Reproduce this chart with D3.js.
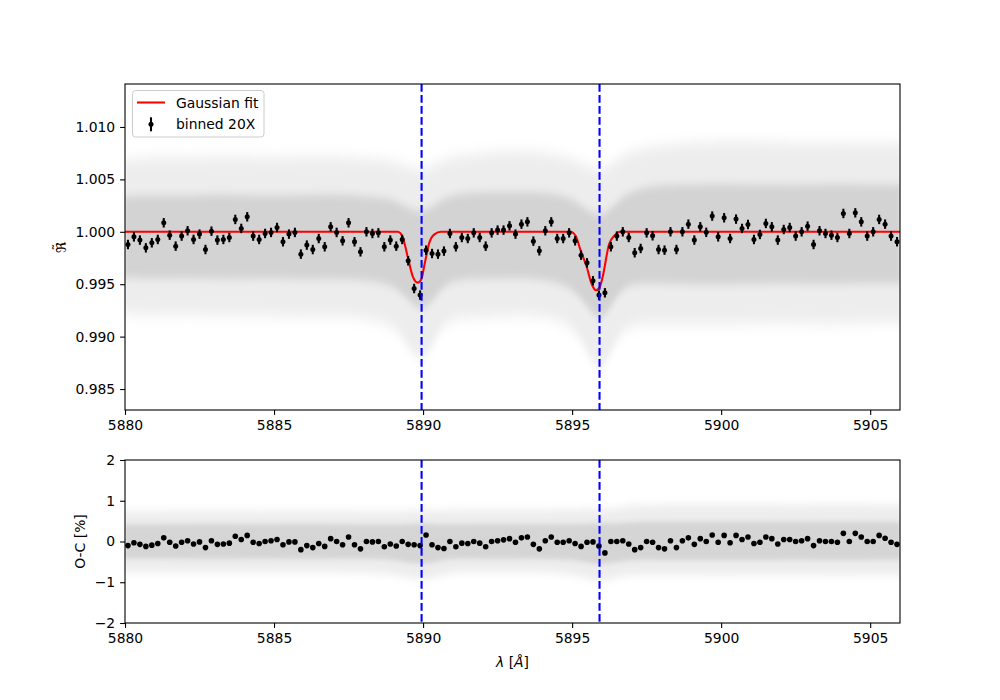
<!DOCTYPE html>
<html>
<head>
<meta charset="utf-8">
<script src="https://cdn.jsdelivr.net/npm/d3@7"></script>
<style>
  body { margin: 0; background: #fff; }
  text { font-family: "DejaVu Sans", sans-serif; }
</style>
</head>
<body>
<div id="chart"></div>
<script>
// bin centres of the 20X binned spectrum (Angstrom)
var binWave = [
  5880.1, 5880.3, 5880.5, 5880.7, 5880.9, 5881.1, 5881.3, 5881.5, 5881.7, 5881.9,
  5882.1, 5882.3, 5882.5, 5882.7, 5882.9, 5883.1, 5883.3, 5883.5, 5883.7, 5883.9,
  5884.1, 5884.3, 5884.5, 5884.7, 5884.9, 5885.1, 5885.3, 5885.5, 5885.7, 5885.9,
  5886.1, 5886.3, 5886.5, 5886.7, 5886.9, 5887.1, 5887.3, 5887.5, 5887.7, 5887.9,
  5888.1, 5888.3, 5888.5, 5888.7, 5888.9, 5889.1, 5889.3, 5889.5, 5889.7, 5889.9,
  5890.1, 5890.3, 5890.5, 5890.7, 5890.9, 5891.1, 5891.3, 5891.5, 5891.7, 5891.9,
  5892.1, 5892.3, 5892.5, 5892.7, 5892.9, 5893.1, 5893.3, 5893.5, 5893.7, 5893.9,
  5894.1, 5894.3, 5894.5, 5894.7, 5894.9, 5895.1, 5895.3, 5895.5, 5895.7, 5895.9,
  5896.1, 5896.3, 5896.5, 5896.7, 5896.9, 5897.1, 5897.3, 5897.5, 5897.7, 5897.9,
  5898.1, 5898.3, 5898.5, 5898.7, 5898.9, 5899.1, 5899.3, 5899.5, 5899.7, 5899.9,
  5900.1, 5900.3, 5900.5, 5900.7, 5900.9, 5901.1, 5901.3, 5901.5, 5901.7, 5901.9,
  5902.1, 5902.3, 5902.5, 5902.7, 5902.9, 5903.1, 5903.3, 5903.5, 5903.7, 5903.9,
  5904.1, 5904.3, 5904.5, 5904.7, 5904.9, 5905.1, 5905.3, 5905.5, 5905.7, 5905.9
];

var binFlux = [
  0.99879, 0.99952, 0.99921, 0.99847, 0.99895, 0.99927, 1.00086, 0.99968, 0.99863, 0.99959,
  1.00010, 0.99927, 0.99978, 0.99831, 1.00006, 0.99921, 0.99927, 0.99946, 1.00118, 1.00032,
  1.00143, 0.99959, 0.99927, 0.99984, 0.99994, 1.00041, 0.99905, 0.99978, 0.99994, 0.99787,
  0.99873, 0.99831, 0.99936, 0.99857, 1.00048, 0.99994, 0.99914, 1.00086, 0.99905, 0.99809,
  1.00000, 0.99984, 0.99990, 0.99857, 0.99921, 0.99863, 0.99927, 0.99723, 0.99459, 0.99396,
  0.99825, 0.99793, 0.99787, 0.99816, 0.99984, 0.99857, 0.99946, 0.99936, 0.99990, 0.99946,
  0.99863, 0.99990, 1.00016, 1.00016, 1.00057, 0.99978, 1.00073, 1.00095, 0.99911, 0.99819,
  1.00010, 1.00095, 0.99936, 0.99936, 0.99990, 0.99914, 0.99777, 0.99704, 0.99533, 0.99396,
  0.99418, 0.99857, 0.99959, 1.00000, 0.99946, 0.99800, 0.99841, 0.99990, 0.99962, 0.99831,
  0.99825, 1.00000, 0.99831, 1.00000, 1.00073, 0.99921, 1.00048, 0.99995, 1.00150, 0.99952,
  1.00134, 0.99936, 1.00121, 1.00032, 1.00070, 0.99927, 0.99975, 1.00080, 1.00048, 0.99921,
  1.00022, 1.00041, 0.99959, 1.00000, 1.00054, 0.99879, 1.00010, 0.99984, 0.99968, 0.99946,
  1.00175, 0.99984, 1.00181, 1.00095, 0.99959, 1.00000, 1.00118, 1.00073, 0.99959, 0.99905
];
var binErr = 0.00045;

// O-C residuals in percent
var binResid = [
  -0.10, -0.03, -0.07, -0.12, -0.09, -0.05, 0.09, -0.02, -0.11, -0.02,
  0.02, -0.06, -0.01, -0.15, 0.02, -0.07, -0.06, -0.04, 0.13, 0.05,
  0.15, -0.02, -0.05, 0.00, 0.02, 0.05, -0.08, -0.01, -0.01, -0.20,
  -0.10, -0.15, -0.05, -0.12, 0.07, 0.00, -0.08, 0.11, -0.08, -0.18,
  0.00, -0.01, 0.00, -0.13, -0.06, -0.11, 0.00, -0.07, -0.08, -0.10,
  0.16, -0.08, -0.15, -0.17, 0.00, -0.13, -0.04, -0.05, 0.00, -0.04,
  -0.13, 0.00, 0.02, 0.04, 0.07, -0.02, 0.09, 0.11, -0.07, -0.18,
  0.02, 0.11, -0.02, -0.02, 0.02, -0.05, -0.12, -0.02, -0.01, -0.11,
  -0.28, 0.00, 0.00, 0.02, -0.06, -0.20, -0.15, 0.00, -0.02, -0.15,
  -0.18, 0.02, -0.15, 0.02, 0.09, -0.07, 0.07, 0.00, 0.16, -0.02,
  0.15, -0.03, 0.15, 0.05, 0.11, -0.05, -0.02, 0.11, 0.07, -0.06,
  0.05, 0.05, 0.00, 0.02, 0.07, -0.10, 0.02, 0.00, 0.00, -0.02,
  0.20, 0.00, 0.20, 0.11, 0.00, 0.00, 0.15, 0.08, -0.02, -0.07
];

// Gaussian fit
var fitWave = [5880, 5889.15, 5889.32, 5889.49, 5889.65, 5889.82, 5889.94, 5890.05, 5890.21, 5890.38, 5890.6,
  5894.95, 5895.12, 5895.29, 5895.48, 5895.66, 5895.80, 5895.92, 5896.02, 5896.24, 5896.44, 5896.6, 5906];
var fitFlux = [1.0, 1.0, 0.99945, 0.99754, 0.99578, 0.99515, 0.99547, 0.99690, 0.99897, 0.99976, 1.0,
  1.0, 0.99960, 0.99817, 0.99674, 0.99500, 0.99442, 0.99470, 0.99563, 0.99881, 0.99970, 1.0, 1.0];

// Na D lines
var lineWave = [5889.95, 5895.92];

// envelope of the unbinned points (grey cloud)
var cloudWave = [5880, 5881, 5882, 5883, 5884, 5885, 5886, 5887, 5888, 5889, 5889.5, 5890, 5890.5,
  5891, 5892, 5893, 5894, 5895, 5895.5, 5896, 5896.5, 5897, 5898, 5899, 5900, 5901, 5902, 5903, 5904, 5905, 5906];
var cloudOuterHi = [1.0068, 1.0072, 1.0070, 1.0072, 1.0072, 1.0070, 1.0072, 1.0072, 1.0070, 1.0068, 1.0062, 1.0058, 1.0066,
  1.0072, 1.0075, 1.0078, 1.0076, 1.0070, 1.0062, 1.0058, 1.0068, 1.0078, 1.0082, 1.0085, 1.0086, 1.0086, 1.0085, 1.0084, 1.0085, 1.0084, 1.0084];
var cloudOuterLo = [0.9922, 0.9920, 0.9922, 0.9920, 0.9920, 0.9920, 0.9918, 0.9920, 0.9918, 0.9912, 0.9890, 0.9872, 0.9905,
  0.9918, 0.9918, 0.9920, 0.9920, 0.9912, 0.9885, 0.9862, 0.9900, 0.9912, 0.9912, 0.9912, 0.9912, 0.9912, 0.9914, 0.9912, 0.9912, 0.9914, 0.9914];
var cloudInnerHi = [1.0034, 1.0035, 1.0034, 1.0036, 1.0035, 1.0034, 1.0035, 1.0036, 1.0034, 1.0032, 1.0022, 1.0018, 1.0028,
  1.0036, 1.0038, 1.0038, 1.0038, 1.0033, 1.0020, 1.0014, 1.0028, 1.0040, 1.0045, 1.0045, 1.0046, 1.0045, 1.0045, 1.0045, 1.0046, 1.0045, 1.0045];
var cloudInnerLo = [0.9956, 0.9955, 0.9956, 0.9955, 0.9955, 0.9956, 0.9954, 0.9955, 0.9954, 0.9950, 0.9935, 0.9922, 0.9942,
  0.9955, 0.9955, 0.9956, 0.9955, 0.9948, 0.9928, 0.9912, 0.9940, 0.9952, 0.9950, 0.9950, 0.9950, 0.9950, 0.9951, 0.9950, 0.9950, 0.9951, 0.9951];

var residOuterHi = [0.75, 0.75, 0.75, 0.76, 0.75, 0.75, 0.76, 0.75, 0.75, 0.75, 0.75, 0.78, 0.75,
  0.78, 0.78, 0.78, 0.78, 0.78, 0.80, 0.80, 0.80, 0.90, 0.90, 0.92, 0.90, 0.92, 0.90, 0.90, 0.92, 0.90, 0.90];
var residOuterLo = [-0.75, -0.75, -0.76, -0.75, -0.75, -0.76, -0.75, -0.75, -0.76, -0.80, -0.90, -0.95, -0.85,
  -0.75, -0.75, -0.76, -0.75, -0.80, -0.92, -1.00, -0.88, -0.82, -0.82, -0.82, -0.83, -0.82, -0.82, -0.82, -0.83, -0.82, -0.82];
var residInnerHi = [0.42, 0.42, 0.42, 0.43, 0.42, 0.42, 0.43, 0.42, 0.42, 0.42, 0.42, 0.45, 0.42,
  0.42, 0.43, 0.43, 0.42, 0.42, 0.44, 0.45, 0.44, 0.48, 0.48, 0.49, 0.48, 0.49, 0.48, 0.48, 0.49, 0.48, 0.48];
var residInnerLo = [-0.42, -0.42, -0.42, -0.43, -0.42, -0.42, -0.43, -0.42, -0.42, -0.45, -0.52, -0.56, -0.48,
  -0.42, -0.43, -0.43, -0.42, -0.45, -0.52, -0.58, -0.50, -0.45, -0.45, -0.46, -0.45, -0.46, -0.45, -0.45, -0.46, -0.45, -0.45];

var xTicks = [5880, 5885, 5890, 5895, 5900, 5905];
var topYTicks = [0.985, 0.990, 0.995, 1.000, 1.005, 1.010];
var botYTicks = [-2, -1, 0, 1, 2];

var W = 1000, H = 700;
var left = 125, right = 900;
var topPanel = {y0: 84, y1: 410};
var botPanel = {y0: 460, y1: 623};
var fontSize = 13.9, tickLen = 4.9;
var lw = 2.08;

var svg = d3.select("#chart").append("svg")
  .attr("width", W)
  .attr("height", H);

var x = d3.scaleLinear().domain([5880, 5906]).range([left, right]);
var yTop = d3.scaleLinear().domain([0.9830, 1.0141]).range([topPanel.y1, topPanel.y0]);
var yBot = d3.scaleLinear().domain([-2, 2]).range([botPanel.y1, botPanel.y0]);

var defs = svg.append("defs");
function clipFor(id, p) {
  defs.append("clipPath").attr("id", id)
    .append("rect")
    .attr("x", left).attr("y", p.y0)
    .attr("width", right - left).attr("height", p.y1 - p.y0);
}
clipFor("clip-top", topPanel);
clipFor("clip-bot", botPanel);

// soft edges for the grey cloud
function blur(id, dev) {
  defs.append("filter").attr("id", id)
    .attr("x", "-5%").attr("y", "-40%").attr("width", "110%").attr("height", "180%")
    .append("feGaussianBlur").attr("stdDeviation", dev);
}
blur("soft", "1.5 7");
blur("softer", "1.5 4");
blur("softBot", "1.5 4");
blur("softerBot", "1.5 2.5");

function band(g, y, lo, hi, opacity, filt) {
  var area = d3.area()
    .x(function(d) { return x(d); })
    .y0(function(d, i) { return y(lo[i]); })
    .y1(function(d, i) { return y(hi[i]); })
    .curve(d3.curveBasis);
  g.append("path")
    .datum(cloudWave)
    .attr("d", area)
    .attr("fill", "#000")
    .attr("fill-opacity", opacity)
    .attr("filter", "url(#" + filt + ")");
}

function vlines(g, p) {
  g.selectAll(".dline")
    .data(lineWave)
    .enter()
    .append("line")
    .attr("class", "dline")
    .attr("x1", function(d) { return x(d); })
    .attr("x2", function(d) { return x(d); })
    .attr("y1", p.y0)
    .attr("y2", p.y1)
    .attr("stroke", "#0000ff")
    .attr("stroke-width", lw)
    .attr("stroke-dasharray", "7.7,3.3");
}

function axes(p, y, yTicks, yFmt) {
  var gx = svg.append("g")
    .attr("transform", "translate(0," + p.y1 + ")")
    .call(d3.axisBottom(x).tickValues(xTicks).tickFormat(d3.format("d"))
      .tickSize(tickLen).tickPadding(4.9).tickSizeOuter(0));
  var gy = svg.append("g")
    .attr("transform", "translate(" + left + ",0)")
    .call(d3.axisLeft(y).tickValues(yTicks).tickFormat(yFmt)
      .tickSize(tickLen).tickPadding(4.9).tickSizeOuter(0));
  [gx, gy].forEach(function(g) {
    g.select(".domain").remove();
    g.selectAll("line").attr("stroke", "#000").attr("stroke-width", 1.1);
    g.selectAll("text")
      .attr("fill", "#000")
      .style("font-family", "DejaVu Sans")
      .style("font-size", fontSize + "px");
  });
  svg.append("rect")
    .attr("x", left).attr("y", p.y0)
    .attr("width", right - left).attr("height", p.y1 - p.y0)
    .attr("fill", "none")
    .attr("stroke", "#000")
    .attr("stroke-width", 1.1);
}

// ---- top panel ----
var gTop = svg.append("g").attr("clip-path", "url(#clip-top)");
band(gTop, yTop, cloudOuterLo, cloudOuterHi, 0.07, "soft");
band(gTop, yTop, cloudInnerLo, cloudInnerHi, 0.11, "softer");

gTop.append("path")
  .datum(fitWave)
  .attr("fill", "none")
  .attr("stroke", "red")
  .attr("stroke-width", lw)
  .attr("d", d3.line()
    .x(function(d) { return x(d); })
    .y(function(d, i) { return yTop(fitFlux[i]); })
    .curve(d3.curveMonotoneX));

gTop.selectAll(".ebar")
  .data(binWave)
  .enter()
  .append("line")
  .attr("class", "ebar")
  .attr("x1", function(d) { return x(d); })
  .attr("x2", function(d) { return x(d); })
  .attr("y1", function(d, i) { return yTop(binFlux[i] - binErr); })
  .attr("y2", function(d, i) { return yTop(binFlux[i] + binErr); })
  .attr("stroke", "#000")
  .attr("stroke-width", lw);

gTop.selectAll(".bin")
  .data(binWave)
  .enter()
  .append("circle")
  .attr("class", "bin")
  .attr("cx", function(d) { return x(d); })
  .attr("cy", function(d, i) { return yTop(binFlux[i]); })
  .attr("r", 2.5)
  .attr("fill", "#000");

vlines(gTop, topPanel);
axes(topPanel, yTop, topYTicks, d3.format(".3f"));

// ---- bottom panel ----
var gBot = svg.append("g").attr("clip-path", "url(#clip-bot)");
band(gBot, yBot, residOuterLo, residOuterHi, 0.07, "softBot");
band(gBot, yBot, residInnerLo, residInnerHi, 0.10, "softerBot");

gBot.selectAll(".res")
  .data(binWave)
  .enter()
  .append("circle")
  .attr("class", "res")
  .attr("cx", function(d) { return x(d); })
  .attr("cy", function(d, i) { return yBot(binResid[i]); })
  .attr("r", 2.8)
  .attr("fill", "#000");

vlines(gBot, botPanel);
axes(botPanel, yBot, botYTicks, d3.format("d"));

// ---- labels ----
var yl = svg.append("g")
  .attr("transform", "translate(62," + ((topPanel.y0 + topPanel.y1) / 2) + ") rotate(-90)");
yl.append("text")
  .attr("x", 0).attr("y", 4)
  .attr("text-anchor", "middle")
  .style("font-size", fontSize + "px")
  .text("\u211C");
yl.append("text")
  .attr("x", 0).attr("y", 1)
  .attr("text-anchor", "middle")
  .style("font-size", fontSize + "px")
  .text("\u02DC");

svg.append("text")
  .attr("transform", "translate(85," + ((botPanel.y0 + botPanel.y1) / 2) + ") rotate(-90)")
  .attr("text-anchor", "middle")
  .style("font-size", fontSize + "px")
  .text("O-C [%]");

var xl = svg.append("text")
  .attr("x", (left + right) / 2)
  .attr("y", 667)
  .attr("text-anchor", "middle")
  .style("font-size", fontSize + "px");
xl.append("tspan").style("font-style", "italic").text("\u03BB");
xl.append("tspan").text(" [");
xl.append("tspan").style("font-style", "italic").text("\u00C5");
xl.append("tspan").text("]");

// ---- legend ----
var leg = svg.append("g");
leg.append("rect")
  .attr("x", 132.5).attr("y", 90.5)
  .attr("width", 131.5).attr("height", 46.5)
  .attr("rx", 3)
  .attr("fill", "#fff").attr("fill-opacity", 0.8)
  .attr("stroke", "#cccccc").attr("stroke-width", 1);
leg.append("line")
  .attr("x1", 137).attr("x2", 165)
  .attr("y1", 102.5).attr("y2", 102.5)
  .attr("stroke", "red").attr("stroke-width", lw);
leg.append("text")
  .attr("x", 176).attr("y", 107.5)
  .style("font-size", fontSize + "px")
  .text("Gaussian fit");
leg.append("line")
  .attr("x1", 151).attr("x2", 151)
  .attr("y1", 117.3).attr("y2", 131.3)
  .attr("stroke", "#000").attr("stroke-width", lw);
leg.append("circle")
  .attr("cx", 151).attr("cy", 124.3).attr("r", 2.5)
  .attr("fill", "#000");
leg.append("text")
  .attr("x", 176).attr("y", 129.3)
  .style("font-size", fontSize + "px")
  .text("binned 20X");
</script>
</body>
</html>
